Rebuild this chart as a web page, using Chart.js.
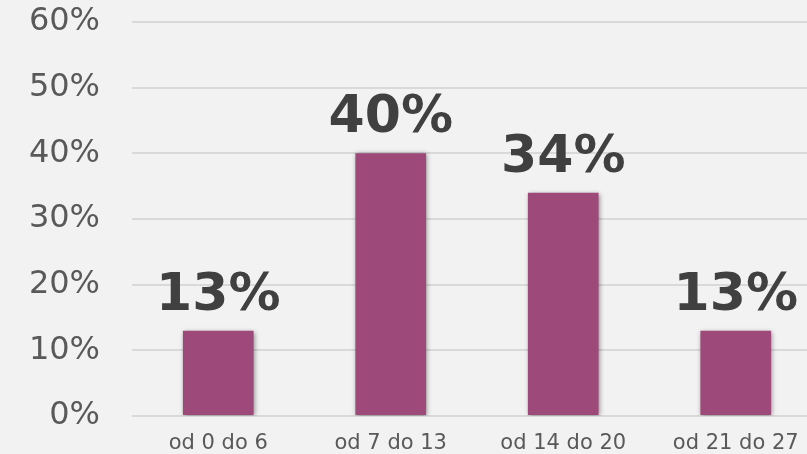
<!DOCTYPE html>
<html>
<head>
<meta charset="utf-8">
<script src="https://cdn.jsdelivr.net/npm/chart.js@4/dist/chart.umd.min.js"></script>
<style>
  html, body { margin: 0; padding: 0; background: #f2f2f2; overflow: hidden; }
  #wrap { position: absolute; left: 0; top: 0; width: 822px; height: 454px; }
</style>
</head>
<body>
<div id="wrap"><canvas id="chart"></canvas></div>
<script>
const categories = ['od 0 do 6', 'od 7 do 13', 'od 14 do 20', 'od 21 do 27'];
const values = [13, 40, 34, 13];
const yTicks = [0, 10, 20, 30, 40, 50, 60];

// bar shadow (lekki cien pod slupkami)
const shadowPlugin = {
  id: 'barShadow',
  beforeDatasetsDraw(chart) {
    const ctx = chart.ctx;
    ctx.save();
    ctx.shadowColor = 'rgba(0,0,0,0.45)';
    ctx.shadowBlur = 5;
    ctx.shadowOffsetX = 1;
    ctx.shadowOffsetY = 1;
  },
  afterDatasetsDraw(chart) {
    chart.ctx.restore();
  }
};

// wartosci nad slupkami
const valueLabels = {
  id: 'valueLabels',
  afterDatasetsDraw(chart) {
    const ctx = chart.ctx;
    const meta = chart.getDatasetMeta(0);
    ctx.save();
    ctx.font = 'bold 52px "DejaVu Sans", Verdana, sans-serif';
    ctx.fillStyle = '#404040';
    ctx.textAlign = 'center';
    ctx.textBaseline = 'alphabetic';
    meta.data.forEach((bar, i) => {
      ctx.fillText(values[i] + '%', bar.x, bar.y - 21);
    });
    ctx.restore();
  }
};

new Chart(document.getElementById('chart'), {
  type: 'bar',
  data: {
    labels: categories,
    datasets: [{
      data: values,
      backgroundColor: '#9d4979',
      barPercentage: 0.41,
      categoryPercentage: 1
    }]
  },
  options: {
    responsive: true,
    maintainAspectRatio: false,
    animation: false,
    layout: { padding: { top: 22, left: 0, right: 0, bottom: 0 } },
    plugins: { legend: { display: false }, tooltip: { enabled: false } },
    scales: {
      x: {
        grid: { display: false },
        border: { display: false },
        ticks: {
          color: '#595959',
          padding: 7,
          font: { family: '"DejaVu Sans", Verdana, sans-serif', size: 21 }
        },
        afterFit(scale) { scale.height = 38; }
      },
      y: {
        min: 0,
        max: 60,
        afterBuildTicks(scale) { scale.ticks = yTicks.map(v => ({ value: v })); },
        grid: { color: '#d9d9d9', lineWidth: 2, drawTicks: false },
        border: { display: false },
        ticks: {
          color: '#595959',
          padding: 32,
          font: { family: '"DejaVu Sans", Verdana, sans-serif', size: 32 },
          callback: v => v + '%'
        },
        afterFit(scale) {
          scale.width = 132;
          // tick padding nie ma ruszac gory/dolu wykresu
          scale.paddingTop = 0;
          scale.paddingBottom = 0;
        }
      }
    }
  },
  plugins: [shadowPlugin, valueLabels]
});
</script>
</body>
</html>
